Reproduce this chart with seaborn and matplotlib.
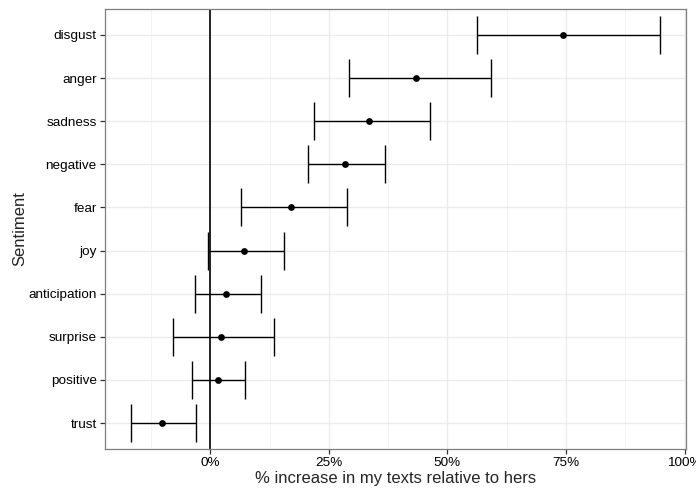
import matplotlib
matplotlib.use("Agg")
import matplotlib.pyplot as plt
import seaborn as sns
import pandas as pd
import numpy as np
from matplotlib.ticker import FixedLocator, FuncFormatter

# data (bottom to top)
sentiments = ["trust", "positive", "surprise", "anticipation", "joy",
              "fear", "negative", "sadness", "anger", "disgust"]
estimate = [-0.102, 0.016, 0.022, 0.034, 0.072, 0.170, 0.284, 0.334, 0.434, 0.744]
conf_low = [-0.168, -0.038, -0.078, -0.033, -0.004, 0.064, 0.206, 0.218, 0.293, 0.562]
conf_high = [-0.030, 0.073, 0.134, 0.106, 0.155, 0.288, 0.368, 0.463, 0.592, 0.948]
x_ticks = [0.0, 0.25, 0.50, 0.75, 1.00]
x_tick_labels = ["0%", "25%", "50%", "75%", "100%"]

df = pd.DataFrame({"sentiment": sentiments, "estimate": estimate,
                   "low": conf_low, "high": conf_high})

sns.set_style("white")
plt.rcParams['font.family'] = ['Liberation Sans', 'DejaVu Sans']

fig = plt.figure(figsize=(6.96, 4.97), dpi=100)
ax = fig.add_axes([105/696, 1 - 449/497, (686-105)/696, (449-9)/497])

ypos = np.arange(len(df))
ax.set_ylim(-0.6, len(df) - 0.4)
ax.set_xlim(-0.222, 1.003)

# grid
ax.xaxis.set_major_locator(FixedLocator(x_ticks))
ax.xaxis.set_minor_locator(FixedLocator([-0.125, 0.125, 0.375, 0.625, 0.875]))
ax.xaxis.set_major_formatter(FuncFormatter(lambda v, p: x_tick_labels[x_ticks.index(round(v, 2))] if round(v, 2) in x_ticks else ""))
ax.set_yticks(ypos)
ax.set_yticklabels(df["sentiment"])
ax.grid(which="major", color="#EBEBEB", linewidth=0.9)
ax.grid(which="minor", axis="x", color="#F2F2F2", linewidth=0.6)
ax.set_axisbelow(True)

ax.axvline(0, color="black", linewidth=1.2, zorder=2)

ax.errorbar(x=df["estimate"], y=ypos,
            xerr=[df["estimate"] - df["low"], df["high"] - df["estimate"]],
            fmt="none", ecolor="black", elinewidth=1.0, capsize=14, capthick=1.0, zorder=3)
sns.scatterplot(x=df["estimate"], y=ypos, ax=ax, color="black", s=24,
                edgecolor="black", linewidth=0, zorder=4)

for sp in ax.spines.values():
    sp.set_color("#7F7F7F")
    sp.set_linewidth(0.9)

ax.tick_params(axis="both", which="major", length=3.5, width=0.9, color="#333333",
               labelsize=9.7, labelcolor="black", pad=2.5, left=True, bottom=True)
ax.tick_params(which="minor", length=0)

ax.set_xlabel("% increase in my texts relative to hers", fontsize=12, labelpad=1)
ax.set_ylabel("Sentiment", fontsize=12, labelpad=1)

fig.savefig("out.png", dpi=100)
